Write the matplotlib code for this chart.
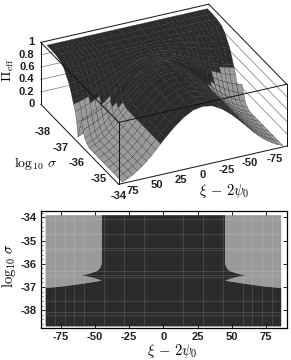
import numpy as np
import matplotlib
matplotlib.use("Agg")
import matplotlib.pyplot as plt
from mpl_toolkits.mplot3d import proj3d

plt.rcParams['mathtext.fontset'] = 'cm'
plt.rcParams['font.family'] = ['Liberation Sans', 'DejaVu Sans']
plt.rcParams['axes.unicode_minus'] = False

W, H = 291, 360
DARK = '#2c2c2c'
GRAY = '#9a9a9a'

xi_half = [0, 10, 20, 30, 40, 45, 50, 55, 60, 65, 70, 75, 80, 86]
log_sigma = [-38.7, -38.4, -38.1, -37.8, -37.6, -37.45, -37.3, -37.15, -37.05, -37.0,
             -36.9, -36.8, -36.72, -36.6, -36.5, -36.4, -36.3, -36.15, -36.0,
             -35.7, -35.4, -35.1, -34.8, -34.5, -34.2, -33.9]
pi_half = [
    [.98, .98, .98, .98, .98, .98, .98, .98, .98, .98, .98, .98, .98, .98],
    [.98, .98, .98, .98, .98, .98, .98, .98, .98, .98, .98, .98, .98, .98],
    [.98, .98, .98, .98, .98, .98, .98, .98, .98, .98, .975, .975, .975, .97],
    [.98, .98, .98, .98, .975, .97, .965, .96, .956, .952, .949, .946, .944, .941],
    [.98, .98, .98, .967, .95, .94, .93, .92, .912, .905, .898, .892, .887, .882],
    [.98, .98, .969, .945, .916, .90, .884, .868, .854, .841, .83, .82, .812, .804],
    [.98, .979, .957, .923, .882, .86, .838, .815, .796, .777, .762, .748, .737, .726],
    [.97, .97, .938, .89, .832, .80, .768, .736, .708, .682, .66, .64, .624, .608],
    [.975, .96, .92, .86, .79, .75, .71, .67, .635, .60, .575, .55, .53, .51],
    [.973, .96, .916, .85, .773, .73, .687, .644, .606, .571, .541, .514, .492, .47],
    [.968, .953, .902, .827, .735, .685, .635, .584, .54, .499, .465, .433, .408, .383],
    [.96, .941, .878, .783, .668, .605, .542, .479, .423, .372, .329, .289, .257, .226],
    [.95, .925, .845, .725, .58, .50, .42, .34, .27, .205, .15, .10, .06, .02],
    [.959, .939, .873, .775, .656, .59, .524, .459, .401, .348, .303, .262, .229, .196],
    [.966, .949, .894, .812, .712, .658, .603, .548, .50, .455, .418, .384, .356, .329],
    [.96, .94, .876, .78, .664, .60, .536, .472, .416, .364, .32, .28, .248, .216],
    [.955, .932, .859, .75, .618, .545, .472, .399, .336, .277, .227, .181, .145, .108],
    [.95, .927, .85, .733, .593, .515, .437, .36, .292, .229, .176, .127, .088, .049],
    [.95, .925, .845, .725, .58, .50, .42, .34, .27, .205, .15, .10, .06, .02],
    [.95, .925, .845, .725, .58, .50, .42, .34, .27, .205, .15, .10, .06, .02],
    [.95, .925, .845, .725, .58, .50, .42, .34, .27, .205, .15, .10, .06, .02],
    [.95, .925, .845, .725, .58, .50, .42, .34, .27, .205, .15, .10, .06, .02],
    [.95, .925, .845, .725, .58, .50, .42, .34, .27, .205, .15, .10, .06, .02],
    [.95, .925, .845, .725, .58, .50, .42, .34, .27, .205, .15, .10, .06, .02],
    [.95, .925, .845, .725, .58, .50, .42, .34, .27, .205, .15, .10, .06, .02],
    [.95, .925, .845, .725, .58, .50, .42, .34, .27, .205, .15, .10, .06, .02],
]
xi_mesh_2d = [-79.5, -72, -65, -58, -43.5, -29, -14.5, 14.5, 29, 43.5, 58, 65, 72, 79.5]
sigma_mesh_2d = [-34.06, -34.7, -35.3, -35.4, -36.3, -36.46, -36.55, -37.6, -38.07, -38.2]

xi_ticks = [-75, -50, -25, 0, 25, 50, 75]
sigma_ticks = [-38, -37, -36, -35, -34]
z_ticks = [0, 0.2, 0.4, 0.6, 0.8, 1]
z_labels = ['0', '0.2', '0.4', '0.6', '0.8', '1']

half = np.array(pi_half)
xi_full = np.concatenate([-np.array(xi_half[:0:-1]), np.array(xi_half)])
pi_full = np.hstack([half[:, :0:-1], half])
sig = np.array(log_sigma)

fig = plt.figure(figsize=(W / 100, H / 100), dpi=100)
fig.patch.set_facecolor('white')


def ftext(px, py, s, **kw):
    return fig.text(px / W, 1 - py / H, s, **kw)


# ---------- 3-D panel ----------
XMIN, XMAX = -90, 90
YMIN, YMAX = -38.85, -33.9
s0 = 220
ax3 = fig.add_axes([0.1, 0.3, s0 / W, s0 / H], projection='3d', proj_type='ortho',
                   computed_zorder=False)
ax3.set_xlim(XMIN, XMAX, view_margin=0)
ax3.set_ylim(YMIN, YMAX, view_margin=0)
ax3.set_zlim(0, 1, view_margin=0)
ax3.set_box_aspect((557, 549, 212))
ax3.view_init(elev=28.9, azim=64.8)
ax3.set_axis_off()
ax3.patch.set_visible(False)


def corner_px(x, y, z):
    fig.canvas.draw()
    xp, yp, _ = proj3d.proj_transform(x, y, z, ax3.get_proj())
    return ax3.transData.transform((xp, yp))


# fit the box to the reference corners: front-bottom and right-bottom
p_front = corner_px(XMAX, YMAX, 0)
p_right = corner_px(XMIN, YMAX, 0)
target_front = np.array([118.7, H - 184.3])
target_right = np.array([286.7, H - 146.0])
scale = (target_right[0] - target_front[0]) / (p_right[0] - p_front[0])
pos0 = ax3.get_position()
s1 = pos0.width * W * scale
ax3.set_position([0.1, 0.3, s1 / W, s1 / H])
p_front = corner_px(XMAX, YMAX, 0)
delta = target_front - p_front
pos1 = ax3.get_position()
ax3.set_position([pos1.x0 + delta[0] / W, pos1.y0 + delta[1] / H, pos1.width, pos1.height])

# wall lines behind the surface
for z in z_ticks[1:-1]:
    ax3.plot([XMIN, XMIN], [YMIN, YMAX], [z, z], color='#8c8c8c', lw=0.6, zorder=1)
    ax3.plot([XMIN, XMAX], [YMIN, YMIN], [z, z], color='#8c8c8c', lw=0.6, zorder=1)

X3, Y3 = np.meshgrid(xi_full, sig)
quad = (pi_full[:-1, :-1] + pi_full[1:, :-1] + pi_full[:-1, 1:] + pi_full[1:, 1:]) / 4
fc = np.empty(pi_full.shape + (4,))
fc[:] = matplotlib.colors.to_rgba(DARK)
fc[:-1, :-1][quad < 0.5] = matplotlib.colors.to_rgba(GRAY)
ax3.plot_surface(X3, Y3, pi_full, facecolors=fc, shade=False, rstride=1, cstride=1,
                 linewidth=0.2, edgecolor='#242424', antialiased=True, zorder=2)

box_edges = [
    ((XMIN, YMIN, 1), (XMAX, YMIN, 1)),
    ((XMIN, YMIN, 1), (XMIN, YMAX, 1)),
    ((XMAX, YMIN, 1), (XMAX, YMAX, 1)),
    ((XMAX, YMAX, 1), (XMIN, YMAX, 1)),
    ((XMAX, YMIN, 0), (XMAX, YMAX, 0)),
    ((XMAX, YMAX, 0), (XMIN, YMAX, 0)),
    ((XMAX, YMIN, 0), (XMAX, YMIN, 1)),
    ((XMAX, YMAX, 0), (XMAX, YMAX, 1)),
    ((XMIN, YMAX, 0), (XMIN, YMAX, 1)),
]
for a, b in box_edges:
    ax3.plot(*zip(a, b), color='#111111', lw=0.7, zorder=3)

# 3-D tick labels
tk = dict(fontsize=8, color='#222222', ha='center', va='center', fontweight='bold')
for lab, (px, py) in zip(['75', '50', '25', '0', '-25', '-50', '-75'],
                         [(133, 190.7), (157, 185), (181, 180), (203, 174.5),
                          (227, 170), (250, 163.5), (275, 159.5)]):
    ftext(px, py, lab, **tk)
for val, (px, py) in zip(sigma_ticks, [(43, 131.7), (60.5, 148), (76.5, 163),
                                       (99, 179), (119, 196.5)]):
    ftext(px, py, str(val), **tk)
for lab, py in zip(z_labels, [104.3, 92, 79.3, 67, 55, 42.3]):
    ftext(34.5, py, lab, fontsize=8, color='#222222', ha='right', va='center', fontweight='bold')
ftext(8.5, 70, r'$\mathbf{\Pi}_{\mathrm{eff}}$', fontsize=10, rotation=90, ha='center', va='center')
ftext(35, 163.5, r'$\log_{10}\,\sigma$', fontsize=10, ha='center', va='center')
ftext(224, 191, r'$\xi\,-\,2\psi_0$', fontsize=10.5, ha='center', va='center')

# ---------- 2-D panel ----------
L, R, T, B = 40.7, 286.7, 211, 328.3
ax2 = fig.add_axes([L / W, 1 - B / H, (R - L) / W, (B - T) / H])
ax2.contourf(xi_full, sig, pi_full, levels=[0, 0.5, 1.01], colors=[GRAY, DARK], antialiased=True)
ax2.set_xlim(-89.6, 90)
ax2.set_ylim(-38.78, -33.72)
ax2.vlines(xi_mesh_2d, log_sigma[0], log_sigma[-1], color='white', alpha=0.12, lw=0.7)
ax2.hlines(sigma_mesh_2d, xi_half[-1] * -1, xi_half[-1], color='white', alpha=0.12, lw=0.7)
ax2.set_xticks(xi_ticks)
ax2.set_yticks(sigma_ticks)
ax2.set_xticks(np.arange(-85, 90, 5), minor=True)
ax2.set_yticks(np.arange(-38.6, -33.7, 0.2), minor=True)
ax2.tick_params(which='major', direction='in', length=3, width=0.6, top=True, right=True,
                labelsize=8, pad=3, labelcolor='#222222')
ax2.tick_params(which='minor', direction='in', length=1.5, width=0.4, top=False, right=False, bottom=False)
for lbl in ax2.get_xticklabels() + ax2.get_yticklabels():
    lbl.set_fontweight('bold')
for sp in ax2.spines.values():
    sp.set_linewidth(0.9)
ftext(9, 266, r'$\log_{10}\,\sigma$', fontsize=10.5, rotation=90, ha='center', va='center')
ftext(172, 351.5, r'$\xi\,-\,2\psi_0$', fontsize=10.5, ha='center', va='center')

fig.savefig('out.png', dpi=100)
